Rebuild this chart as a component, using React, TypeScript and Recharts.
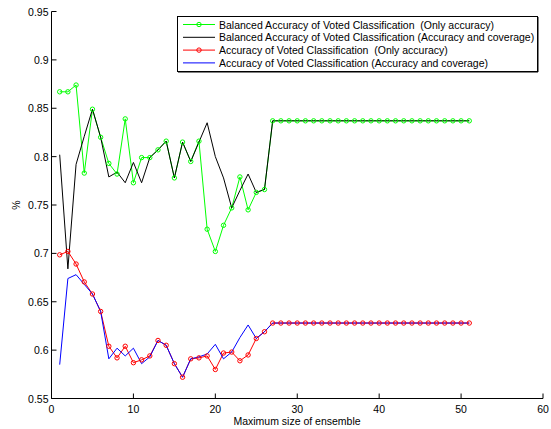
import React from 'react';
import { LineChart, Line, XAxis, YAxis, Legend } from 'recharts';

const ensembleSize = [
  1, 2, 3, 4, 5, 6, 7, 8, 9, 10, 11, 12, 13, 14, 15, 16, 17, 18, 19, 20, 21, 22, 23, 24, 25, 26,
  27, 28, 29, 30, 31, 32, 33, 34, 35, 36, 37, 38, 39, 40, 41, 42, 43, 44, 45, 46, 47, 48, 49, 50, 51,
];

const balancedOnlyAcc = [
  0.867, 0.867, 0.874, 0.783, 0.849, 0.820, 0.793, 0.782, 0.839, 0.773, 0.799, 0.799, 0.807, 0.816,
  0.778, 0.815, 0.795, 0.816, 0.725, 0.702, 0.729, 0.747, 0.779, 0.745, 0.763, 0.766,
  0.837, 0.837, 0.837, 0.837, 0.837, 0.837, 0.837, 0.837, 0.837, 0.837, 0.837, 0.837, 0.837,
  0.837, 0.837, 0.837, 0.837, 0.837, 0.837, 0.837, 0.837, 0.837, 0.837, 0.837, 0.837,
];

const balancedAccCov = [
  0.802, 0.684, 0.792, 0.821, 0.849, 0.820, 0.779, 0.784, 0.773, 0.794, 0.773, 0.799, 0.807, 0.816,
  0.778, 0.815, 0.795, 0.815, 0.835, 0.800, 0.778, 0.747, 0.765, 0.782, 0.763, 0.766,
  0.837, 0.837, 0.837, 0.837, 0.837, 0.837, 0.837, 0.837, 0.837, 0.837, 0.837, 0.837, 0.837,
  0.837, 0.837, 0.837, 0.837, 0.837, 0.837, 0.837, 0.837, 0.837, 0.837, 0.837, 0.837,
];

const accOnlyAcc = [
  0.6985, 0.702, 0.689, 0.6705, 0.658, 0.640, 0.604, 0.592, 0.604, 0.587, 0.590, 0.594, 0.610, 0.605,
  0.586, 0.572, 0.591, 0.592, 0.594, 0.580, 0.597, 0.598, 0.589, 0.595, 0.612, 0.619,
  0.628, 0.628, 0.628, 0.628, 0.628, 0.628, 0.628, 0.628, 0.628, 0.628, 0.628, 0.628, 0.628,
  0.628, 0.628, 0.628, 0.628, 0.628, 0.628, 0.628, 0.628, 0.628, 0.628, 0.628, 0.628,
];

const accAccCov = [
  0.585, 0.674, 0.678, 0.668, 0.658, 0.640, 0.591, 0.602, 0.594, 0.602, 0.586, 0.593, 0.610, 0.605,
  0.586, 0.572, 0.591, 0.593, 0.596, 0.606, 0.591, 0.598, 0.613, 0.626, 0.612, 0.619,
  0.628, 0.628, 0.628, 0.628, 0.628, 0.628, 0.628, 0.628, 0.628, 0.628, 0.628, 0.628, 0.628,
  0.628, 0.628, 0.628, 0.628, 0.628, 0.628, 0.628, 0.628, 0.628, 0.628, 0.628, 0.628,
];

const xTicks = [0, 10, 20, 30, 40, 50, 60];
const yTicks = [0.55, 0.6, 0.65, 0.7, 0.75, 0.8, 0.85, 0.9, 0.95];
const yTickLabels = ['0.55', '0.6', '0.65', '0.7', '0.75', '0.8', '0.85', '0.9', '0.95'];

const seriesNames = [
  'Balanced Accuracy of Voted Classification  (Only accuracy)',
  'Balanced Accuracy of Voted Classification (Accuracy and coverage)',
  'Accuracy of Voted Classification  (Only accuracy)',
  'Accuracy of Voted Classification (Accuracy and coverage)',
];
const seriesColors = ['#00ff00', '#000000', '#ff0000', '#0000ff'];
const seriesMarkers = [true, false, true, false];

const data = ensembleSize.map((x, i) => ({
  x,
  s0: balancedOnlyAcc[i],
  s1: balancedAccCov[i],
  s2: accOnlyAcc[i],
  s3: accAccCov[i],
}));

const FONT = '"Liberation Sans", Arial, Helvetica, sans-serif';

const XTick = (props: any) => {
  const { x, y, payload } = props;
  return (
    <g>
      <line x1={x} y1={y} x2={x} y2={y - 5} stroke="#000" strokeWidth={1} />
      <text x={x} y={y + 10} textAnchor="middle" dominantBaseline="central" fontSize={10.5} fontFamily={FONT} fill="#000">
        {String(payload.value)}
      </text>
    </g>
  );
};

const YTick = (props: any) => {
  const { x, y, payload } = props;
  const idx = yTicks.indexOf(payload.value);
  const label = idx >= 0 ? yTickLabels[idx] : String(payload.value);
  return (
    <g>
      <line x1={x} y1={y} x2={x + 5} y2={y} stroke="#000" strokeWidth={1} />
      <text x={x - 3} y={y} textAnchor="end" dominantBaseline="central" fontSize={10.5} fontFamily={FONT} fill="#000">
        {label}
      </text>
    </g>
  );
};

const LegendBox = () => {
  const rowY = [8.5, 21.3, 34.1, 46.9];
  return (
    <svg width={362} height={57} style={{ display: 'block' }}>
      <rect x={0.5} y={0.5} width={360} height={55} fill="#fff" stroke="#000" strokeWidth={1} />
      <line x1={1} y1={56} x2={361} y2={56} stroke="#000" strokeWidth={1} />
      <line x1={361} y1={1} x2={361} y2={56} stroke="#000" strokeWidth={1} />
      {seriesNames.map((name, i) => (
        <g key={name}>
          <line x1={6} y1={rowY[i]} x2={38} y2={rowY[i]} stroke={seriesColors[i]} strokeWidth={1} />
          {seriesMarkers[i] && (
            <circle cx={22} cy={rowY[i]} r={2.2} fill="none" stroke={seriesColors[i]} strokeWidth={1} />
          )}
          <text
            x={42}
            y={rowY[i]}
            dominantBaseline="central"
            fontSize={10.5}
            fontFamily={FONT}
            fill="#000"
            style={{ whiteSpace: 'pre' }}
          >
            {name}
          </text>
        </g>
      ))}
    </svg>
  );
};

export default function App() {
  return (
    <div style={{ position: 'absolute', left: 0, top: 0, width: 551, height: 429, background: '#fff' }}>
      <LineChart
        width={551}
        height={429}
        data={data}
        margin={{ top: 11.5, right: 8, bottom: 10.5, left: 11.5 }}
      >
        <XAxis
          type="number"
          dataKey="x"
          domain={[0, 60]}
          ticks={xTicks}
          interval={0}
          height={20}
          tickSize={0}
          tickMargin={0}
          tickLine={false}
          axisLine={{ stroke: '#000', strokeWidth: 1 }}
          tick={<XTick />}
          label={{
            content: () => (
              <text x={297} y={421} textAnchor="middle" dominantBaseline="central" fontSize={10.5} fontFamily={FONT} fill="#000">
                Maximum size of ensemble
              </text>
            ),
          }}
        />
        <YAxis
          type="number"
          domain={[0.55, 0.95]}
          ticks={yTicks}
          interval={0}
          width={40}
          tickSize={0}
          tickMargin={0}
          tickLine={false}
          allowDataOverflow
          axisLine={{ stroke: '#000', strokeWidth: 1 }}
          tick={<YTick />}
          label={{
            content: () => (
              <text
                x={16}
                y={205}
                transform="rotate(-90,16,205)"
                textAnchor="middle"
                dominantBaseline="central"
                fontSize={10.5}
                fontFamily={FONT}
                fill="#000"
              >
                %
              </text>
            ),
          }}
        />
        <Legend
          layout="vertical"
          align="center"
          verticalAlign="middle"
          content={<LegendBox />}
          wrapperStyle={{ position: 'absolute', left: 177, top: 16, width: 362, height: 57 }}
        />
        {['s0', 's1', 's2', 's3'].map((k, i) => (
          <Line
            key={k}
            type="linear"
            dataKey={k}
            name={seriesNames[i]}
            stroke={seriesColors[i]}
            strokeWidth={1}
            dot={seriesMarkers[i] ? { r: 2.2, fill: 'none', stroke: seriesColors[i], strokeWidth: 1 } : false}
            activeDot={false}
            isAnimationActive={false}
          />
        ))}
      </LineChart>
    </div>
  );
}
